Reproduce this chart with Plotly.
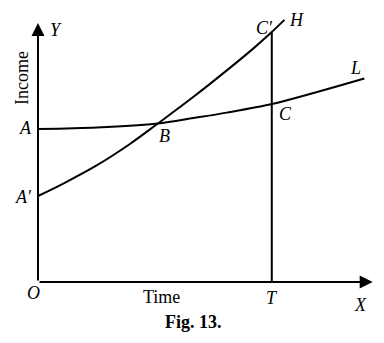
import plotly.graph_objects as go

# Data (in arbitrary Time / Income units)
h_time = [0, 0.76, 1.76, 2.76, 3.6, 4.66, 5.67, 6.47, 7.02, 7.4]
h_income = [3.32, 3.8, 4.5, 5.33, 6.12, 7.14, 8.17, 9.02, 9.65, 10.12]
l_time = [0, 1.76, 3.6, 4.66, 5.67, 7.02, 9.8]
l_income = [5.91, 5.97, 6.12, 6.33, 6.54, 6.87, 7.86]
t_time = [7.02, 7.02]
t_income = [0, 9.65]
x_axis_end = 10.05
y_axis_end = 10.0

SERIF = "Liberation Serif"
fig = go.Figure()
line_style = dict(color="black", width=2)
fig.add_trace(go.Scatter(x=h_time, y=h_income, mode="lines", line=dict(**line_style, shape="spline", smoothing=1.0), hoverinfo="skip"))
fig.add_trace(go.Scatter(x=l_time, y=l_income, mode="lines", line=dict(**line_style, shape="spline", smoothing=0.8), hoverinfo="skip"))
fig.add_trace(go.Scatter(x=t_time, y=t_income, mode="lines", line=line_style, hoverinfo="skip"))

# axes with arrows
for (x, y) in [(x_axis_end, 0), (0, y_axis_end)]:
    fig.add_annotation(x=x, y=y, ax=0, ay=0, xref="x", yref="y", axref="x", ayref="y",
                       text="", showarrow=True, arrowhead=2, arrowsize=1.3, arrowwidth=2, arrowcolor="black")

labels = [
    ("<i>Y</i>", 0.54, 9.73, 18),
    ("<i>A</i>", -0.39, 5.95, 18),
    ("<i>A′</i>", -0.45, 3.3, 18),
    ("<i>B</i>", 3.81, 5.62, 18),
    ("<i>O</i>", -0.15, -0.42, 18),
    ("Time", 3.72, -0.58, 18),
    ("<i>T</i>", 7.02, -0.62, 18),
    ("<i>X</i>", 9.67, -0.89, 18),
    ("<i>C</i>", 7.42, 6.5, 18),
    ("<i>C′</i>", 6.8, 9.82, 18),
    ("<i>H</i>", 7.75, 10.12, 18),
    ("<i>L</i>", 9.52, 8.26, 18),
    ("<b>Fig. 13.</b>", 4.68, -1.54, 18),
]
for txt, x, y, s in labels:
    fig.add_annotation(x=x, y=y, text=txt, showarrow=False, font=dict(family=SERIF, size=s, color="black"))
fig.add_annotation(x=-0.48, y=7.88, text="Income", textangle=-90, showarrow=False,
                   font=dict(family=SERIF, size=18, color="black"))

fig.update_layout(
    width=384, height=343, margin=dict(l=0, r=0, t=0, b=0),
    paper_bgcolor="white", plot_bgcolor="white", showlegend=False,
    xaxis=dict(range=[-1.141, 10.39], visible=False, fixedrange=True),
    yaxis=dict(range=[-2.355, 10.888], visible=False, fixedrange=True),
)
fig.write_html("out.html")
